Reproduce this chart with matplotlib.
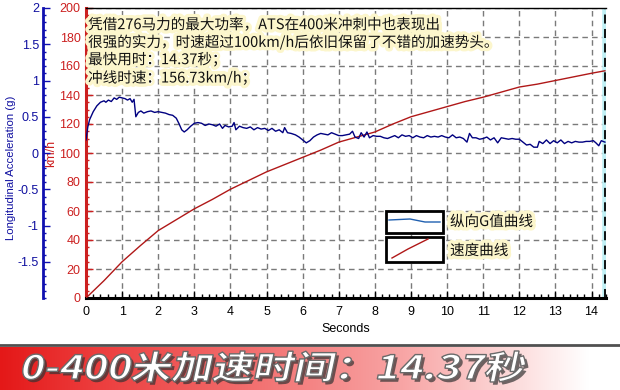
import numpy as np
import matplotlib
matplotlib.use('Agg')
import matplotlib.pyplot as plt
from matplotlib.ticker import MultipleLocator, FixedLocator, FixedFormatter
import matplotlib.patheffects as pe
from matplotlib.patches import Rectangle, PathPatch
from matplotlib.lines import Line2D
from matplotlib.textpath import TextPath
from matplotlib.font_manager import FontProperties
import matplotlib.transforms as mtransforms

plt.rcParams['font.family'] = ['Noto Sans CJK SC', 'DejaVu Sans']

# ---------------- data ----------------
speed_t = [0, 0.5, 1, 1.5, 2, 2.5, 3, 3.5, 4, 4.5, 5, 5.5, 6, 6.5, 7, 7.5, 8,
           8.5, 9, 9.5, 10, 10.5, 11, 11.5, 12, 12.5, 13, 13.5, 14, 14.37]
speed_kmh = [0, 12, 25, 36, 46.5, 54, 61.5, 68, 75, 81, 87, 92, 97, 102, 107.5,
             111, 114.5, 120, 125, 128.5, 132, 135.5, 138.5, 142, 145.5, 147.5,
             150, 152.5, 155, 156.7]

g_t = [0.00, 0.05, 0.10, 0.20, 0.30, 0.40, 0.50, 0.55, 0.62, 0.70, 0.78, 0.85,
       0.92, 1.00, 1.08, 1.15, 1.22, 1.28, 1.33, 1.38, 1.45, 1.52, 1.60, 1.70,
       1.80, 1.90, 2.00, 2.10, 2.20, 2.30, 2.40, 2.50, 2.58, 2.65, 2.72, 2.80,
       2.90, 3.00, 3.10, 3.20, 3.30, 3.40, 3.50, 3.60, 3.70, 3.78, 3.85, 3.95,
       4.05, 4.10, 4.15, 4.25, 4.35, 4.45, 4.55, 4.65, 4.75, 4.85, 4.95, 5.05,
       5.15, 5.25, 5.35, 5.45, 5.50, 5.58, 5.68, 5.80, 5.90, 6.00, 6.10, 6.20,
       6.30, 6.40, 6.50, 6.60, 6.70, 6.80, 6.90, 7.00, 7.10, 7.20, 7.30, 7.38,
       7.45, 7.55, 7.62, 7.70, 7.78, 7.85, 7.95, 8.05, 8.15, 8.25, 8.35, 8.45,
       8.55, 8.65, 8.75, 8.85, 8.95, 9.05, 9.15, 9.25, 9.35, 9.45, 9.55, 9.65,
       9.75, 9.85, 9.95, 10.05, 10.15, 10.25, 10.35, 10.45, 10.55, 10.62, 10.70,
       10.80, 10.90, 11.00, 11.10, 11.20, 11.30, 11.40, 11.50, 11.60, 11.70,
       11.80, 11.90, 12.00, 12.10, 12.20, 12.30, 12.40, 12.50, 12.55, 12.65,
       12.75, 12.85, 12.95, 13.05, 13.15, 13.25, 13.35, 13.45, 13.55, 13.65,
       13.75, 13.85, 13.95, 14.05, 14.12, 14.20, 14.27, 14.37]
g_val = [0.18, 0.36, 0.46, 0.57, 0.65, 0.70, 0.72, 0.70, 0.73, 0.71, 0.76, 0.74,
         0.77, 0.76, 0.75, 0.73, 0.75, 0.70, 0.74, 0.50, 0.56, 0.58, 0.55, 0.57,
         0.58, 0.56, 0.57, 0.56, 0.55, 0.53, 0.52, 0.48, 0.40, 0.32, 0.29, 0.32,
         0.37, 0.41, 0.42, 0.41, 0.38, 0.40, 0.39, 0.37, 0.40, 0.34, 0.38, 0.36,
         0.37, 0.42, 0.32, 0.37, 0.35, 0.34, 0.36, 0.32, 0.35, 0.33, 0.34, 0.31,
         0.34, 0.30, 0.32, 0.28, 0.35, 0.28, 0.27, 0.25, 0.22, 0.18, 0.14, 0.17,
         0.22, 0.25, 0.27, 0.26, 0.25, 0.28, 0.26, 0.24, 0.24, 0.25, 0.26, 0.30,
         0.22, 0.20, 0.28, 0.22, 0.29, 0.21, 0.24, 0.23, 0.23, 0.21, 0.20, 0.22,
         0.24, 0.21, 0.25, 0.23, 0.24, 0.21, 0.24, 0.22, 0.21, 0.24, 0.22, 0.23,
         0.22, 0.24, 0.22, 0.21, 0.25, 0.21, 0.22, 0.20, 0.15, 0.27, 0.21,
         0.21, 0.19, 0.20, 0.22, 0.18, 0.21, 0.14, 0.21, 0.20, 0.19,
         0.20, 0.19, 0.19, 0.15, 0.11, 0.12, 0.08, 0.08, 0.16, 0.13,
         0.18, 0.13, 0.17, 0.14, 0.18, 0.13, 0.16, 0.14, 0.16, 0.15,
         0.15, 0.16, 0.16, 0.17, 0.14, 0.10, 0.17, 0.15]

x_ticks = list(range(15))
kmh_ticks = list(range(0, 201, 20))
g_ticks = [-1.5, -1, -0.5, 0, 0.5, 1, 1.5, 2]
g_tick_labels = ['-1.5', '-1', '-0.5', '0', '0.5', '1', '1.5', '2']
note_lines = ["凭借276马力的最大功率，ATS在400米冲刺中也表现出",
              "很强的实力，时速超过100km/h后依旧保留了不错的加速势头。",
              "最快用时：14.37秒；",
              "冲线时速：156.73km/h；"]
legend_labels = ['纵向G值曲线', '速度曲线']
banner_text = '0-400米加速时间：14.37秒'
finish_time = 14.37

# ---------------- figure ----------------
W, H = 620, 390
fig = plt.figure(figsize=(W / 100, H / 100), dpi=100)
fig.patch.set_facecolor('white')

L, R, T, B = 86, 606, 8, 298
ax = fig.add_axes([L / W, (H - B) / H, (R - L) / W, (B - T) / H])
ax.set_xlim(0, 14.4)
ax.set_ylim(0, 200)

red = '#cc2020'
blue = '#1010a0'
tickfont = 'Liberation Sans'

ax.xaxis.set_major_locator(FixedLocator(x_ticks))
ax.xaxis.set_minor_locator(MultipleLocator(0.2))
ax.yaxis.set_major_locator(FixedLocator(kmh_ticks))
ax.yaxis.set_minor_locator(MultipleLocator(5))
ax.tick_params(axis='x', which='both', direction='in', color='black',
               labelcolor='black', labelsize=9, pad=6)
ax.tick_params(axis='x', which='major', length=5, width=1)
ax.tick_params(axis='x', which='minor', length=3, width=1)
ax.tick_params(axis='y', which='both', direction='in', color=red,
               labelcolor=red, labelsize=9, pad=4)
ax.tick_params(axis='y', which='major', length=5, width=1)
ax.tick_params(axis='y', which='minor', length=2.5, width=1)
for lab in ax.get_xticklabels() + ax.get_yticklabels():
    lab.set_family(tickfont)

ax.grid(True, which='major', color='#7a7a7a', ls=(0, (4, 3)), lw=1)
ax.spines['left'].set_color(red)
ax.spines['left'].set_linewidth(2.2)
ax.spines['bottom'].set_color('black')
ax.spines['bottom'].set_linewidth(2.2)
ax.spines['top'].set_color('black')
ax.spines['top'].set_linewidth(1)
ax.spines['right'].set_visible(False)

ax.set_xlabel('Seconds', fontsize=9, family=tickfont, color='black')
ax.xaxis.set_label_coords(0.5, (B - 329) / (B - T) + 0.02)
ax.set_ylabel('km/h', fontsize=9, family=tickfont, color=red)
ax.yaxis.set_label_coords((57 - L) / (R - L), 0.5)

# speed line
ax.plot(speed_t, speed_kmh, color='#b01818', lw=1.0, zorder=3)

# finish line
ax.axvline(finish_time, color='#bff0f5', lw=4, zorder=2)
ax.axvline(finish_time, color='black', lw=1.3, ls=(0, (5, 3)), zorder=3)

# G axis
axg = ax.twinx()
axg.set_ylim(-2, 2)
axg.spines['right'].set_visible(False)
axg.spines['top'].set_visible(False)
axg.spines['bottom'].set_visible(False)
axg.spines['left'].set_visible(True)
axg.spines['left'].set_position(('axes', (43 - L) / (R - L)))
axg.spines['left'].set_color('#1010b0')
axg.spines['left'].set_linewidth(2)
axg.yaxis.tick_left()
axg.yaxis.set_label_position('left')
axg.yaxis.set_major_locator(FixedLocator(g_ticks))
axg.yaxis.set_major_formatter(FixedFormatter(g_tick_labels))
axg.yaxis.set_minor_locator(MultipleLocator(0.1))
axg.tick_params(axis='y', which='both', direction='in', color='#1010b0',
                labelcolor=blue, labelsize=9, pad=3)
axg.tick_params(axis='y', which='major', length=5, width=1)
axg.tick_params(axis='y', which='minor', length=2.5, width=1)
for lab in axg.get_yticklabels():
    lab.set_family(tickfont)
axg.set_ylabel('Longitudinal Acceleration (g)', fontsize=8.2, family=tickfont,
               color=blue)
axg.yaxis.set_label_coords((16 - L) / (R - L), 0.45)

axg.plot(g_t, g_val, color='#000080', lw=1.0, zorder=3)

# note text
glow = [pe.withStroke(linewidth=5, foreground='#fcf6cc')]
note_y = [25, 42, 60, 78]
for line, py in zip(note_lines, note_y):
    axg.text(0.004, (B - py) / (B - T), line, transform=axg.transAxes,
             fontsize=10.5, color='#111111', va='center', ha='left',
             path_effects=glow, zorder=5)

# legend
def axfrac(px, py):
    return ((px - L) / (R - L), (B - py) / (B - T))

for (x0, y0, x1, y1) in [(386, 211, 443, 233), (386, 237, 443, 262)]:
    fx0, fy1 = axfrac(x0, y0)
    fx1, fy0 = axfrac(x1, y1)
    axg.add_patch(Rectangle((fx0, fy0), fx1 - fx0, fy1 - fy0,
                            transform=axg.transAxes, facecolor='white',
                            edgecolor='black', lw=2, zorder=6))
bx = [axfrac(389, 220)[0], axfrac(410, 219)[0], axfrac(425, 222)[0], axfrac(440, 222)[0]]
by = [axfrac(389, 220)[1], axfrac(410, 219)[1], axfrac(425, 222)[1], axfrac(440, 222)[1]]
axg.add_line(Line2D(bx, by, transform=axg.transAxes, color='#2060b0', lw=1, zorder=7))
rx = [axfrac(392, 258)[0], axfrac(408, 249)[0], axfrac(428, 239)[0]]
ry = [axfrac(392, 258)[1], axfrac(408, 249)[1], axfrac(428, 239)[1]]
axg.add_line(Line2D(rx, ry, transform=axg.transAxes, color='#b01818', lw=1, zorder=7))
for lab, py in zip(legend_labels, [222, 251]):
    fx, fy = axfrac(450, py)
    axg.text(fx, fy, lab, transform=axg.transAxes, fontsize=10.5,
             color='#111111', va='center', ha='left', path_effects=glow,
             zorder=7)

# ---------------- banner ----------------
bax = fig.add_axes([0, 0, 1, 43 / H])
xs = np.linspace(0, 1, 620)
stops = [0.0, 0.15, 0.4, 0.65, 0.85, 0.95, 1.0]
cr = [228, 236, 242, 248, 253, 255, 255]
cg = [24, 60, 110, 165, 225, 255, 255]
cb = [24, 60, 110, 165, 225, 255, 255]
grad = np.stack([np.interp(xs, stops, cr), np.interp(xs, stops, cg),
                 np.interp(xs, stops, cb)], axis=-1) / 255.0
bax.imshow(grad[None, :, :], aspect='auto', extent=[0, 1, 0, 1])
bax.set_axis_off()
fig.add_artist(Line2D([0, 1], [(H - 345) / H] * 2, color='#505050', lw=2,
                      transform=fig.transFigure))

fp = FontProperties(family='Noto Sans CJK SC', weight='bold')
tp = TextPath((0, 0), banner_text, size=30, prop=fp)
ext = tp.get_extents()
sx = 502 / ext.width
sy = 31 / ext.height
trans = (mtransforms.Affine2D().translate(-ext.x0, -ext.y0).scale(sx, sy)
         .skew_deg(12, 0).translate(20, H - 382))
patch = PathPatch(tp, transform=trans, facecolor='white', edgecolor='#6a6a6a',
                  lw=1.0, path_effects=[pe.SimplePatchShadow(offset=(2, -2),
                                                            shadow_rgbFace='#333333',
                                                            alpha=0.7),
                                        pe.Normal()])
fig.add_artist(patch)

fig.savefig('out.png', dpi=100)
